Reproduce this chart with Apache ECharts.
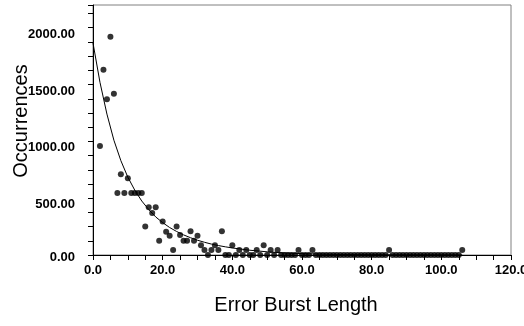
<!DOCTYPE html>
<html>
<head>
<meta charset="utf-8">
<script src="https://cdn.jsdelivr.net/npm/echarts@6/dist/echarts.min.js"></script>
<style>
  html, body { margin: 0; padding: 0; background: #fff; }
  #chart { width: 524px; height: 326px; }
</style>
</head>
<body>
<div id="chart"></div>
<script>
// measured points
const burstLength = [
  2, 3, 4, 5, 6, 7, 8, 9, 10, 11, 12, 13, 14, 15, 16, 17, 18, 19, 20,
  21, 22, 23, 24, 25, 26, 27, 28, 29, 30, 31, 32, 33, 34, 35, 36, 37, 38, 39, 40,
  41, 42, 43, 44, 45, 46, 47, 48, 49, 50, 51, 52, 53, 54, 55, 56, 57, 58, 59, 60,
  61, 62, 63, 64, 65, 66, 67, 68, 69, 70, 71, 72, 73, 74, 75, 76, 77, 78, 79, 80,
  81, 82, 83, 84, 85, 86, 87, 88, 89, 90, 91, 92, 93, 94, 95, 96, 97, 98, 99, 100,
  101, 102, 103, 104, 105, 106
]
const occurrences = [
  960, 1630, 1370, 1920, 1420, 545, 710, 545, 675, 545, 545, 545, 545, 250, 420, 370, 420, 125, 295,
  205, 170, 45, 250, 175, 125, 125, 210, 125, 170, 85, 45, 0, 45, 85, 45, 210, 0, 0, 85,
  0, 45, 0, 45, 0, 0, 45, 0, 85, 0, 45, 0, 45, 0, 0, 0, 0, 0, 45, 0,
  0, 0, 45, 0, 0, 0, 0, 0, 0, 0, 0, 0, 0, 0, 0, 0, 0, 0, 0, 0,
  0, 0, 0, 0, 45, 0, 0, 0, 0, 0, 0, 0, 0, 0, 0, 0, 0, 0, 0, 0,
  0, 0, 0, 0, 0, 45
]

// fitted curve
const curveX = [0, 2, 4, 6, 8, 10, 12, 14, 16, 18, 20, 22, 24, 26, 28, 30, 32, 34, 36, 38, 40,
  45, 50, 55, 60, 70, 80, 90, 106]
const curveY = [1865, 1520, 1240, 1010, 830, 685, 570, 475, 400, 335, 285, 242, 207, 177, 152, 130, 112, 96, 83, 72, 62,
  42, 28, 18, 12, 5, 2, 1, 0]

const xTicks = [0, 20, 40, 60, 80, 100, 120]

const font = "'Liberation Sans', Arial, sans-serif"

const chart = echarts.init(document.getElementById('chart'), null, { renderer: 'canvas' })

chart.setOption({
  animation: false,
  grid: {
    left: 93,
    right: 13,
    top: 5,
    bottom: 71,
    outerBoundsMode: 'none',
    containLabel: false,
    show: true,
    borderColor: '#808080',
    borderWidth: 1
  },
  xAxis: {
    type: 'value',
    min: xTicks[0],
    max: xTicks[xTicks.length - 1],
    interval: 20,
    name: 'Error Burst Length',
    nameLocation: 'middle',
    nameGap: 40,
    nameMoveOverlap: false,
    nameTextStyle: {
      fontFamily: font,
      fontSize: 20,
      color: '#000',
      padding: [0, 12, 0, 0]
    },
    axisLine: { lineStyle: { color: '#000', width: 1 } },
    axisTick: { show: true, length: 5, lineStyle: { color: '#000' } },
    minorTick: { show: true, splitNumber: 4, length: 5, lineStyle: { color: '#000' } },
    splitLine: { show: false },
    axisLabel: {
      margin: 9,
      fontFamily: font,
      fontSize: 13,
      fontWeight: 'bold',
      color: '#000',
      formatter: v => v.toFixed(1)
    }
  },
  yAxis: {
    type: 'value',
    min: 0,
    max: 2200,
    interval: 125,
    name: 'Occurrences',
    nameLocation: 'middle',
    nameGap: 62,
    nameMoveOverlap: false,
    nameTextStyle: {
      fontFamily: font,
      fontSize: 20,
      color: '#000',
      padding: [0, 0, 0, 18]
    },
    axisLine: { show: true, lineStyle: { color: '#000', width: 1 } },
    axisTick: { show: true, length: 5, lineStyle: { color: '#000' } },
    splitLine: { show: false },
    axisLabel: {
      margin: 18,
      fontFamily: font,
      fontSize: 13,
      fontWeight: 'bold',
      color: '#000',
      formatter: v => {
        if (v % 500 !== 0 || v > 2000) return ''
        return v === 0 ? '{z|0.00}' : '{n|' + v.toFixed(2) + '}'
      },
      rich: {
        n: { fontFamily: font, fontSize: 13, fontWeight: 'bold', color: '#000', padding: [13, 0, 0, 0] },
        z: { fontFamily: font, fontSize: 13, fontWeight: 'bold', color: '#000', padding: [5, 0, 0, 0] }
      }
    }
  },
  series: [
    {
      name: 'fit',
      type: 'line',
      data: curveX.map((x, i) => [x, curveY[i]]),
      smooth: false,
      symbol: 'none',
      lineStyle: { color: '#000', width: 1 },
      z: 2
    },
    {
      name: 'points',
      type: 'scatter',
      data: burstLength.map((x, i) => [x, occurrences[i]]),
      symbol: 'circle',
      symbolSize: 6,
      itemStyle: { color: '#000' },
      z: 3
    }
  ]
})
</script>
</body>
</html>
